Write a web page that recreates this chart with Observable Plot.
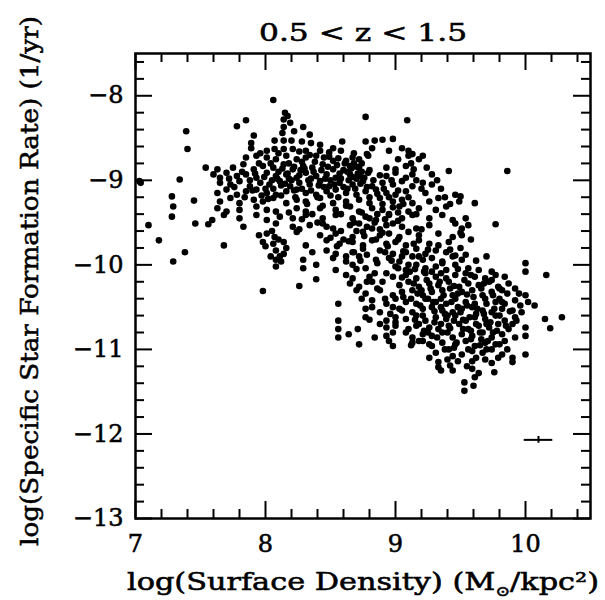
<!DOCTYPE html>
<html><head><meta charset="utf-8">
<script src="https://cdn.jsdelivr.net/npm/d3@7"></script>
<script src="https://cdn.jsdelivr.net/npm/@observablehq/plot@0.6"></script>
<style>html,body{margin:0;padding:0;background:#fff}#chart text{stroke:#000;stroke-width:0.55px}</style>
</head><body><div id="chart"></div>
<script>
const titleText = "0.5 < z < 1.5";
const xLabelText = "log(Surface Density) (M⊙/kpc²)";
const yLabelText = "log(Specific Star Formation Rate) (1/yr)";
const xTicks = [7, 8, 9, 10];
const yTicks = [-8, -9, -10, -11, -12, -13];
const xDomain = [7, 10.5];
const yDomain = [-13, -7.5];

// [log surface density, log sSFR]
const sparsePoints = [[8.06,-8.05],[7.39,-8.42],[7.40,-8.63],[7.34,-8.99],[7.04,-9.03],[7.03,-9.01],[7.28,-9.19],[7.29,-9.31],[7.28,-9.43],[7.45,-9.24],[7.10,-9.53],[7.18,-9.71],[7.29,-9.96],[7.38,-9.85],[7.46,-9.51],[7.56,-9.52],[7.59,-9.47],[7.68,-9.77],[7.54,-8.85],[7.78,-8.36],[7.85,-8.29],[7.98,-10.31],[8.26,-10.25],[8.39,-10.17],[8.77,-8.25],[9.09,-8.29],[9.41,-8.89],[9.86,-8.89],[9.61,-9.27],[9.77,-9.52],[9.70,-9.90],[10.00,-9.98],[10.00,-10.08],[10.16,-10.12],[10.28,-10.62],[10.15,-10.64],[10.19,-10.75],[10.00,-11.06],[8.56,-10.46],[8.56,-10.66],[8.56,-10.76],[8.56,-10.86],[8.64,-10.82],[8.71,-10.76],[8.72,-10.94],[9.53,-11.49],[9.60,-11.43],[9.53,-11.39],[9.35,-11.25],[9.33,-11.21],[9.42,-11.19],[9.26,-11.10],[9.76,-11.27],[9.90,-11.10],[9.90,-11.15]];

const upperCloud = [[8.15,-8.20],[8.17,-8.24],[8.14,-8.28],[8.14,-8.37],[8.29,-8.37],[8.19,-8.32],[7.91,-8.47],[8.34,-8.46],[8.13,-8.44],[8.22,-8.42],
[8.07,-8.53],[8.14,-8.53],[8.20,-8.53],[8.28,-8.54],[8.35,-8.56],[8.42,-8.58],[8.59,-8.54],[8.77,-8.54],[8.84,-8.53],[8.90,-8.52],[8.98,-8.51],[7.89,-8.56],
[8.07,-8.63],[8.14,-8.63],[8.21,-8.63],[7.89,-8.62],[8.01,-8.65],[8.31,-8.65],[8.42,-8.65],[8.49,-8.67],[8.58,-8.65],[8.78,-8.69],[8.95,-8.65],[9.05,-8.62],[9.10,-8.65],[9.13,-8.69],
[7.85,-8.73],[7.93,-8.71],[8.01,-8.73],[8.08,-8.75],[8.16,-8.71],[8.24,-8.75],[8.31,-8.73],[8.39,-8.71],[8.45,-8.73],[8.52,-8.77],[8.62,-8.77],[8.67,-8.73],[8.72,-8.75],[8.79,-8.71],[9.18,-8.75],[9.21,-8.71],[9.10,-8.71],
[7.63,-8.87],[7.75,-8.85],[7.83,-8.81],[7.91,-8.87],[7.98,-8.83],[8.06,-8.85],[8.14,-8.81],[8.21,-8.87],[8.29,-8.83],[8.36,-8.85],[8.44,-8.81],[8.52,-8.87],[8.65,-8.83],[8.72,-8.85],[8.93,-8.85],[9.00,-8.87],[9.08,-8.83],[9.14,-8.87],
[7.60,-8.93],[7.65,-8.97],[7.70,-8.91],[7.78,-8.95],[7.85,-8.93],[7.93,-8.97],[8.01,-8.91],[8.08,-8.95],[8.16,-8.93],[8.24,-8.97],[8.31,-8.91],[8.39,-8.95],[8.47,-8.93],[8.54,-8.97],[8.65,-8.93],[8.72,-8.95],[8.79,-8.91],[8.93,-8.95],[9.00,-8.91],[9.08,-8.97],[9.13,-8.93],[9.28,-8.93],
[7.65,-9.03],[7.73,-9.05],[7.80,-9.01],[7.88,-9.07],[7.96,-9.03],[8.03,-9.05],[8.11,-9.01],[8.19,-9.07],[8.26,-9.03],[8.34,-9.05],[8.42,-9.01],[8.49,-9.07],[8.57,-9.03],[8.67,-9.05],[8.75,-9.01],[8.82,-9.07],[8.90,-9.03],[8.98,-9.05],[9.05,-9.01],[9.13,-9.07],[9.21,-9.03],[9.28,-9.05],
[7.63,-9.15],[7.70,-9.11],[7.78,-9.17],[7.85,-9.13],[7.93,-9.11],[8.01,-9.15],[8.08,-9.17],[8.16,-9.13],[8.24,-9.11],[8.31,-9.15],[8.39,-9.17],[8.47,-9.13],[8.54,-9.11],[8.62,-9.15],[8.70,-9.17],[8.77,-9.13],[8.85,-9.11],[8.93,-9.15],[9.00,-9.17],[9.08,-9.13],[9.23,-9.15],[9.46,-9.17],[9.50,-9.19],
[7.65,-9.25],[7.73,-9.21],[7.80,-9.27],[7.91,-9.23],[7.98,-9.25],[8.06,-9.21],[8.16,-9.27],[8.24,-9.23],[8.31,-9.25],[8.42,-9.21],[8.52,-9.27],[8.62,-9.25],[8.72,-9.23],[8.80,-9.27],[8.88,-9.21],[8.98,-9.25],[9.05,-9.23],[9.13,-9.27],[9.26,-9.25],[9.33,-9.21],[9.49,-9.25],
[7.63,-9.33],[7.70,-9.37],[7.80,-9.35],[7.93,-9.31],[8.01,-9.35],[8.08,-9.37],[8.24,-9.33],[8.31,-9.37],[8.42,-9.33],[8.54,-9.35],[8.65,-9.31],[8.72,-9.37],[8.82,-9.33],[8.90,-9.35],[9.03,-9.31],[9.10,-9.37],[9.18,-9.33],[9.31,-9.35],[9.39,-9.31],
[7.68,-9.41],[7.80,-9.45],[7.93,-9.41],[8.01,-9.47],[8.11,-9.43],[8.21,-9.45],[8.31,-9.41],[8.44,-9.45],[8.54,-9.41],[8.67,-9.45],[8.77,-9.43],[8.85,-9.47],[8.95,-9.41],[9.05,-9.45],[9.13,-9.41],[9.26,-9.45],[9.36,-9.41],[9.44,-9.47],
[7.83,-9.55],[8.08,-9.51],[8.21,-9.55],[8.34,-9.53],[8.44,-9.51],[8.52,-9.57],[8.65,-9.53],[8.72,-9.51],[8.82,-9.57],[8.93,-9.53],[8.98,-9.51],[9.05,-9.55],[9.16,-9.57],[9.26,-9.53],[9.46,-9.51],[9.51,-9.57],[9.56,-9.53],
[8.01,-9.63],[8.07,-9.67],[8.24,-9.61],[8.42,-9.65],[8.54,-9.63],[8.67,-9.67],[8.75,-9.61],[8.88,-9.65],[8.95,-9.63],[9.03,-9.67],[9.10,-9.61],[9.18,-9.65],[9.33,-9.63],[9.44,-9.67],[9.51,-9.65],
[7.98,-9.73],[8.06,-9.75],[8.14,-9.73],[8.31,-9.77],[8.47,-9.71],[8.57,-9.75],[8.67,-9.73],[8.75,-9.77],[8.82,-9.71],[8.93,-9.75],[9.00,-9.73],[9.08,-9.77],[9.18,-9.71],[9.26,-9.75],[9.33,-9.77],[9.41,-9.73],
[8.08,-9.83],[8.14,-9.87],[8.36,-9.85],[8.47,-9.83],[8.54,-9.87],[8.67,-9.85],[8.75,-9.81],[8.88,-9.83],[8.98,-9.87],[9.08,-9.85],[9.16,-9.81],[9.23,-9.87],[9.31,-9.83],[9.39,-9.85],[9.46,-9.89],
[8.08,-9.94],[8.11,-9.90],[8.29,-9.94],[8.52,-9.92],[8.62,-9.96],[8.72,-9.90],[8.85,-9.94],[8.95,-9.92],[9.03,-9.96],[9.13,-9.90],[9.21,-9.94],[9.28,-9.92],[9.36,-9.96],[9.44,-9.90],[9.51,-9.94]];

const lowerCloud = [[8.08,-10.02],[8.29,-10.04],[8.39,-10.00],[8.54,-10.06],[8.67,-10.00],[8.77,-10.04],[9.00,-10.02],[9.08,-10.06],[9.16,-10.00],[9.23,-10.04],[9.31,-10.02],[9.39,-10.06],[9.46,-10.00],[9.56,-10.04],[9.64,-10.06],[9.74,-10.08],
[8.62,-10.12],[8.67,-10.16],[8.80,-10.14],[8.93,-10.10],[9.08,-10.12],[9.16,-10.16],[9.23,-10.10],[9.31,-10.14],[9.39,-10.16],[9.46,-10.12],[9.54,-10.10],[9.61,-10.14],[9.69,-10.16],[9.77,-10.12],[9.84,-10.14],
[8.65,-10.22],[8.72,-10.26],[8.82,-10.20],[9.03,-10.24],[9.10,-10.20],[9.18,-10.26],[9.26,-10.22],[9.33,-10.24],[9.41,-10.20],[9.49,-10.26],[9.56,-10.22],[9.64,-10.24],[9.72,-10.20],[9.79,-10.26],[9.87,-10.22],
[8.77,-10.34],[8.88,-10.30],[8.98,-10.36],[9.05,-10.32],[9.13,-10.30],[9.21,-10.36],[9.28,-10.32],[9.36,-10.30],[9.44,-10.36],[9.51,-10.32],[9.59,-10.30],[9.67,-10.36],[9.74,-10.32],[9.82,-10.30],[9.95,-10.34],[10.00,-10.36],
[8.82,-10.42],[8.93,-10.46],[9.00,-10.40],[9.08,-10.44],[9.16,-10.46],[9.23,-10.40],[9.31,-10.44],[9.39,-10.46],[9.46,-10.40],[9.54,-10.44],[9.61,-10.46],[9.69,-10.40],[9.77,-10.44],[9.84,-10.46],[9.92,-10.42],[10.02,-10.44],[10.07,-10.48],
[8.77,-10.52],[8.88,-10.56],[8.98,-10.50],[9.05,-10.54],[9.13,-10.56],[9.21,-10.52],[9.28,-10.50],[9.36,-10.54],[9.44,-10.56],[9.51,-10.52],[9.59,-10.50],[9.67,-10.54],[9.74,-10.56],[9.82,-10.52],[9.90,-10.54],[9.97,-10.56],
[8.77,-10.62],[8.93,-10.66],[9.00,-10.62],[9.08,-10.64],[9.16,-10.60],[9.23,-10.66],[9.31,-10.62],[9.39,-10.64],[9.46,-10.60],[9.54,-10.66],[9.61,-10.62],[9.69,-10.64],[9.77,-10.60],[9.84,-10.66],[9.92,-10.62],
[8.93,-10.74],[9.00,-10.72],[9.10,-10.76],[9.18,-10.70],[9.26,-10.74],[9.33,-10.76],[9.41,-10.72],[9.49,-10.70],[9.56,-10.76],[9.64,-10.72],[9.72,-10.74],[9.79,-10.70],[9.87,-10.76],[10.00,-10.74],
[8.93,-10.84],[8.98,-10.80],[9.13,-10.86],[9.21,-10.82],[9.28,-10.84],[9.36,-10.80],[9.44,-10.86],[9.51,-10.82],[9.59,-10.84],[9.67,-10.80],[9.74,-10.86],[9.82,-10.82],[10.00,-10.84],
[8.98,-10.96],[9.13,-10.92],[9.21,-10.90],[9.28,-10.96],[9.36,-10.92],[9.46,-10.94],[9.54,-10.90],[9.61,-10.96],[9.69,-10.92],[9.77,-10.94],[9.84,-10.90],
[9.31,-11.04],[9.41,-11.00],[9.51,-11.06],[9.59,-11.02],[9.67,-11.04],[9.74,-11.00],[9.82,-11.06],
[9.33,-11.15],[9.59,-11.14],[9.69,-11.12],[9.79,-11.10],[9.44,-11.25],[9.59,-11.23],[9.61,-11.33]];

const upperCore = [[8.10,-8.90],[8.18,-8.98],[8.27,-8.88],[8.12,-9.06],[8.22,-9.12],[8.35,-8.98],[8.45,-9.08],[8.50,-9.00],[8.60,-8.88],[8.68,-8.80],[8.74,-8.90],[8.70,-8.98],[8.63,-9.10],[8.56,-9.20],[8.40,-9.20],[8.05,-9.00],[7.95,-8.80],[8.00,-9.10],[7.88,-9.00],[8.18,-8.80],[8.28,-8.78],[8.57,-8.92],[8.80,-9.20],[8.90,-9.28],[8.95,-9.40],[9.02,-9.48],[8.86,-9.40],[8.78,-9.55],[8.70,-9.60],[8.60,-9.70],[8.85,-9.70],[8.92,-9.85],[9.05,-9.90],
[7.72,-8.98],[7.76,-9.08],[7.82,-8.90],[7.84,-9.20],[7.90,-9.12],[7.92,-8.92],[7.97,-9.18],[7.99,-8.96],[8.02,-9.22],[8.04,-8.80],[8.06,-9.10],[8.09,-8.98],[8.12,-9.18],[8.13,-8.86],[8.15,-9.04],[8.17,-8.92],[8.20,-9.00],[8.22,-8.84],[8.23,-9.20],[8.26,-8.94],[8.28,-9.10],[8.30,-8.86],[8.33,-9.00],[8.35,-9.12],[8.37,-8.90],[8.38,-8.78],[8.41,-9.06],[8.43,-8.88],[8.46,-8.98],[8.48,-8.84],[8.50,-9.18],[8.53,-9.05],[8.55,-8.82],[8.58,-8.98],[8.60,-9.08],[8.61,-8.80],[8.63,-8.90],[8.64,-9.00],[8.66,-8.86],[8.67,-8.96],[8.69,-9.10],[8.70,-8.84],[8.71,-8.92],[8.73,-9.04],[8.74,-8.80],[8.76,-8.97],[8.78,-9.08],[8.80,-8.88],[8.83,-9.00],[8.86,-9.16],[8.88,-8.94],[8.91,-9.10],[8.95,-9.20],[8.97,-9.00],[9.02,-9.12],[9.06,-9.28],[9.10,-9.20],[9.16,-9.40],[9.02,-9.38],[8.98,-9.32],[8.92,-9.46],[8.88,-9.58],[8.84,-9.50],
[7.95,-9.65],[8.00,-9.78],[8.04,-9.90],[8.10,-9.70],[8.12,-9.96],[8.16,-9.80],[8.05,-9.60],[8.47,-9.55],[8.50,-9.68],[8.55,-9.78],[8.58,-9.60],[8.62,-9.90],[8.64,-9.72],[8.68,-9.85],[8.70,-10.05],[8.73,-9.95],[8.76,-9.66],[8.78,-9.88],[8.90,-9.62],[8.94,-9.78],[8.97,-9.95],[9.02,-9.70],[9.06,-9.84],[9.10,-10.00],[9.14,-9.75],[9.18,-9.90],[9.20,-9.58],[9.22,-10.08],[9.25,-9.82],
[8.32,-9.28],[8.36,-9.40],[8.40,-9.50],[8.28,-9.46],[8.18,-9.38],[8.26,-9.58],[8.44,-9.30],[8.58,-9.40],[8.62,-9.30],[8.68,-9.50],[8.74,-9.38],[8.80,-9.45],[8.49,-8.72],[8.56,-8.74],[8.34,-8.70],[8.26,-8.66],[8.10,-8.68],[7.96,-8.68],[8.52,-8.62],[8.68,-8.68],[8.82,-8.62],[9.02,-8.75],[9.12,-8.80],[9.16,-9.00],[9.20,-9.10],[9.24,-8.85],[9.32,-9.00],[9.35,-9.10],[9.38,-9.20],[9.42,-9.28],[9.54,-9.45],[9.50,-9.62]];

const lowerCore = [[9.20,-10.30],[9.25,-10.40],[9.30,-10.55],[9.35,-10.40],[9.40,-10.60],[9.42,-10.75],[9.48,-10.50],[9.52,-10.65],[9.58,-10.78],[9.62,-10.58],[9.66,-10.88],[9.70,-10.70],[9.55,-10.35],[9.35,-10.70],[9.25,-10.80],[9.15,-10.65],[9.12,-10.40],[9.18,-10.90],[9.45,-10.98],[9.65,-10.95],[9.05,-10.15],[9.15,-10.05],[9.35,-10.10],[9.45,-10.25],[9.75,-10.80],[9.80,-10.40],[9.90,-10.70],
[9.11,-10.08],[9.14,-10.22],[9.17,-10.34],[9.19,-10.48],[9.21,-10.60],[9.22,-10.78],[9.24,-10.18],[9.27,-10.28],[9.29,-10.44],[9.30,-10.68],[9.32,-10.86],[9.34,-10.20],[9.35,-10.50],[9.37,-10.36],[9.38,-10.58],[9.40,-10.80],[9.42,-10.28],[9.43,-10.44],[9.45,-10.66],[9.47,-10.92],[9.48,-10.34],[9.50,-10.56],[9.52,-10.76],[9.53,-10.18],[9.55,-10.48],[9.57,-10.62],[9.58,-10.88],[9.60,-10.38],[9.62,-10.70],[9.63,-10.52],[9.65,-10.80],[9.66,-10.28],[9.68,-10.58],[9.70,-10.46],[9.71,-10.90],[9.73,-10.68],[9.75,-10.36],[9.76,-10.52],[9.78,-10.78],[9.80,-10.60],[9.82,-10.44],[9.85,-10.72],[9.88,-10.55],[9.93,-10.66],[9.96,-10.48],[9.06,-10.38],[9.03,-10.52],[9.00,-10.68],[8.96,-10.58],[8.92,-10.40],[8.88,-10.70],[8.86,-10.28],[8.84,-10.86],[8.95,-10.90],[9.08,-10.80],[9.12,-10.95],[9.16,-10.72],[9.26,-10.94],[9.38,-11.00],[9.44,-11.08],[9.56,-11.00],[9.62,-11.10],[9.70,-11.00],[9.74,-11.16],[9.64,-11.28],[9.55,-11.20],[9.48,-11.14],[9.40,-11.12],[9.86,-11.00],[9.80,-10.94],[9.92,-10.86],
[8.84,-10.10],[8.90,-10.20],[8.98,-10.14],[9.02,-10.04],[8.86,-9.98],[8.78,-10.20],[8.74,-10.40],[8.82,-10.50],[8.70,-10.30],[8.80,-10.65],[9.28,-10.08],[9.36,-9.98],[9.42,-9.82],[9.48,-10.05],[9.54,-9.88],[9.58,-10.12],[9.62,-9.95],[9.68,-10.22],[9.74,-10.18],[9.80,-10.28],[9.86,-10.34],[9.92,-10.28],[9.58,-9.70],[9.50,-9.80]];

// typical error bar: centre and half-widths
const errCenter = [10.1, -12.07];
const errHalf = [0.11, 0.04];

const points = [...sparsePoints, ...upperCloud, ...lowerCloud, ...upperCore, ...lowerCore]
  .map(([density, ssfr]) => ({density, ssfr}));

const W = 605, H = 600, mL = 135, mR = 15, mT = 53, mB = 82;
const innerW = W - mL - mR, innerH = H - mT - mB;
const majorLen = 17, minorLen = 9;
const xMinor = d3.range(7, 10.5001, 0.2).map(v => +v.toFixed(1)).filter(v => !xTicks.includes(v));
const yMinor = d3.range(-13, -7.4999, 0.2).map(v => +v.toFixed(1)).filter(v => !yTicks.includes(v));

const fmt = d3.format("d");
const chart = Plot.plot({
  width: W, height: H,
  marginLeft: mL, marginRight: mR, marginTop: mT, marginBottom: mB,
  x: {domain: xDomain},
  y: {domain: yDomain},
  style: {fontFamily: "DejaVu Serif", fontSize: "24px", background: "#fff", color: "#000"},
  marks: [
    Plot.dot(points, {x: "density", y: "ssfr", r: 3.3, fill: "#000", stroke: "none"}),
    // error bar
    Plot.ruleY([errCenter[1]], {x1: errCenter[0] - errHalf[0], x2: errCenter[0] + errHalf[0], stroke: "#000", strokeWidth: 2}),
    Plot.ruleX([errCenter[0]], {y1: errCenter[1] - errHalf[1], y2: errCenter[1] + errHalf[1], stroke: "#000", strokeWidth: 2}),
    // inward ticks
    Plot.tickX(xTicks, {x: d => d, insetTop: innerH - majorLen, strokeWidth: 2}),
    Plot.tickX(xTicks, {x: d => d, insetBottom: innerH - majorLen, strokeWidth: 2}),
    Plot.tickX(xMinor, {x: d => d, insetTop: innerH - minorLen, strokeWidth: 2}),
    Plot.tickX(xMinor, {x: d => d, insetBottom: innerH - minorLen, strokeWidth: 2}),
    Plot.tickY(yTicks, {y: d => d, insetRight: innerW - majorLen, strokeWidth: 2}),
    Plot.tickY(yTicks, {y: d => d, insetLeft: innerW - majorLen, strokeWidth: 2}),
    Plot.tickY(yMinor, {y: d => d, insetRight: innerW - minorLen, strokeWidth: 2}),
    Plot.tickY(yMinor, {y: d => d, insetLeft: innerW - minorLen, strokeWidth: 2}),
    Plot.frame({stroke: "#000", strokeWidth: 2.5}),
    Plot.axisX(xTicks, {anchor: "bottom", tickSize: 0, tickPadding: 16, tickFormat: fmt, label: null, fontSize: 24}),
    Plot.axisY(yTicks, {anchor: "left", tickSize: 0, tickPadding: 12, tickFormat: fmt, label: null, fontSize: 24}),
    Plot.text([titleText], {frameAnchor: "top", dy: -20, fontSize: 24, textAnchor: "middle", lineAnchor: "middle"}),
    Plot.text([xLabelText], {frameAnchor: "bottom", dy: 64, fontSize: 24, textAnchor: "middle", lineAnchor: "middle"}),
    Plot.text([yLabelText], {frameAnchor: "left", dx: -105, dy: -5, rotate: -90, fontSize: 24, textAnchor: "middle", lineAnchor: "middle"})
  ]
});
document.getElementById("chart").appendChild(chart);

const svg = d3.select(chart);
svg.selectAll("text").filter(function() { return this.textContent === titleText; })
  .attr("textLength", 208).attr("lengthAdjust", "spacingAndGlyphs");
svg.selectAll("text").filter(function() { return this.textContent === yLabelText; })
  .attr("textLength", 530).attr("lengthAdjust", "spacingAndGlyphs");
const xl = svg.selectAll("text").filter(function() { return this.textContent === xLabelText; });
xl.text(null);
xl.append("tspan").text("log(Surface Density) (M");
xl.append("tspan").attr("font-size", 14).attr("dy", 6).text("⊙");
xl.append("tspan").attr("dy", -6).text("/kpc²)");
xl.attr("textLength", 472).attr("lengthAdjust", "spacingAndGlyphs");
</script>
</body></html>
